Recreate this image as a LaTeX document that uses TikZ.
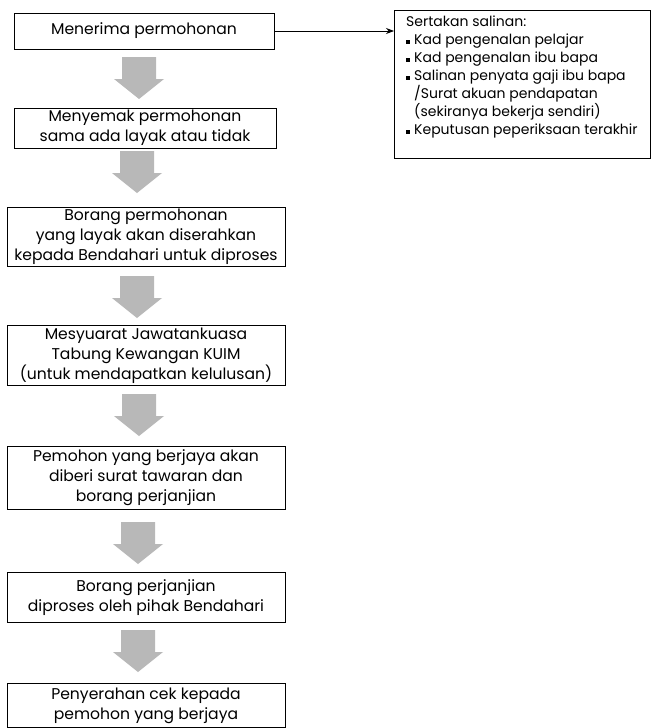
\documentclass[tikz,border=0pt]{standalone}
\usepackage{fontspec}
\setmainfont{Poppins}
\usetikzlibrary{arrows.meta}
\newcommand{\bul}{\makebox[8pt][l]{\rule[1pt]{3.5pt}{3.5pt}}}
\begin{document}
\begin{tikzpicture}[x=1pt,y=-1pt,
  stepbox/.style={draw,line width=0.9pt,align=center,inner sep=0pt,
    font=\fontsize{15.6}{20}\selectfont},
  downarrow/.pic={\fill[black!28] (-17,-21) -- (17,-21) -- (17,1) -- (25,1) -- (0,21)
     -- (-25,1) -- (-17,1) -- cycle;}]
\useasboundingbox[fill=white] (0,0) rectangle (651,728);
\node[stepbox,minimum width=260pt,minimum height=36pt] (b1) at (144,31) {Menerima permohonan};
\node[stepbox,minimum width=262pt,minimum height=40pt] (b2) at (145,128) {Menyemak permohonan\\sama ada layak atau tidak};
\node[stepbox,minimum width=278pt,minimum height=59pt] (b3) at (146,237) {Borang permohonan\\yang layak akan diserahkan\\kepada Bendahari untuk diproses};
\node[stepbox,minimum width=278pt,minimum height=60pt] (b4) at (146,355.5) {Mesyuarat Jawatankuasa\\Tabung Kewangan KUIM\\(untuk mendapatkan kelulusan)};
\node[stepbox,minimum width=278pt,minimum height=63pt] (b5) at (146,478) {Pemohon yang berjaya akan\\diberi surat tawaran dan\\borang perjanjian};
\node[stepbox,minimum width=278pt,minimum height=50pt] (b6) at (146,597.5) {Borang perjanjian\\diproses oleh pihak Bendahari};
\node[stepbox,minimum width=278pt,minimum height=44pt] (b7) at (146,705.5) {Penyerahan cek kepada\\pemohon yang berjaya};
\node[draw,line width=0.9pt,anchor=north west,minimum width=256pt,minimum height=148pt,
  inner sep=0pt] (docs) at (394,10) {};
\node[anchor=north west,align=left,inner sep=0pt,font=\fontsize{14}{18}\selectfont] (doclist) at (406,16)
  {Sertakan salinan:\\
   \bul Kad pengenalan pelajar\\
   \bul Kad pengenalan ibu bapa\\
   \bul Salinan penyata gaji ibu bapa\\
   \hspace*{8pt}/Surat akuan pendapatan\\
   \hspace*{8pt}(sekiranya bekerja sendiri)\\
   \bul Keputusan peperiksaan terakhir};
\draw[line width=0.8pt,-{Stealth[length=8pt,width=6pt]}] (b1.east) -- (docs.west |- b1.east);
\pic (a1) at (139,78) {downarrow};
\pic (a2) at (137,172) {downarrow};
\pic (a3) at (137,297) {downarrow};
\pic (a4) at (139,415) {downarrow};
\pic (a5) at (138,543) {downarrow};
\pic (a6) at (138,651) {downarrow};
\end{tikzpicture}
\end{document}
